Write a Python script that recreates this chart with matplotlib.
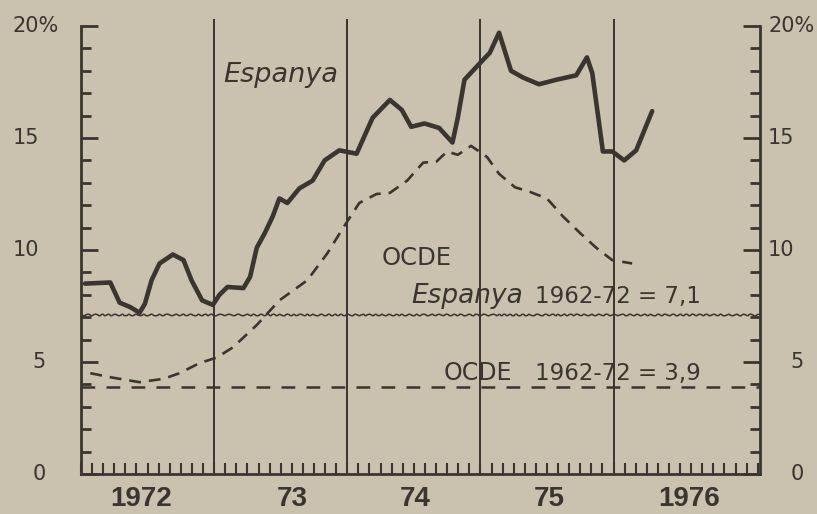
import numpy as np
import matplotlib.pyplot as plt
from matplotlib.ticker import FixedLocator

# colors del paper
paper = '#cac1ae'
ink = '#3a3530'

# Espanya: taxa d'inflacio (%)
esp_x = [1972.03, 1972.22, 1972.29, 1972.37, 1972.44, 1972.48, 1972.53, 1972.59,
         1972.69, 1972.77, 1972.83, 1972.91, 1972.99, 1973.04, 1973.10, 1973.22,
         1973.27, 1973.32, 1973.38, 1973.44, 1973.49, 1973.55, 1973.64, 1973.74,
         1973.83, 1973.94, 1974.07, 1974.19, 1974.32, 1974.41, 1974.48, 1974.58,
         1974.69, 1974.79, 1974.83, 1974.88, 1974.99, 1975.07, 1975.14, 1975.23,
         1975.32, 1975.44, 1975.57, 1975.72, 1975.80, 1975.84, 1975.92, 1975.99,
         1976.08, 1976.17, 1976.29]
esp_y = [8.5, 8.55, 7.65, 7.45, 7.2, 7.6, 8.65, 9.4,
         9.8, 9.55, 8.65, 7.75, 7.55, 8.0, 8.35, 8.3,
         8.8, 10.1, 10.75, 11.5, 12.3, 12.1, 12.75, 13.1,
         14.0, 14.45, 14.3, 15.9, 16.7, 16.25, 15.5, 15.65,
         15.45, 14.8, 15.9, 17.6, 18.3, 18.8, 19.7, 18.0,
         17.7, 17.4, 17.6, 17.8, 18.6, 17.9, 14.4, 14.4,
         14.0, 14.45, 16.2]

# OCDE
ocde_x = [1972.07, 1972.24, 1972.44, 1972.62, 1972.74, 1972.89, 1973.02, 1973.14,
          1973.32, 1973.49, 1973.70, 1973.85, 1973.97, 1974.09, 1974.22, 1974.32,
          1974.45, 1974.57, 1974.67, 1974.75, 1974.83, 1974.93, 1975.05, 1975.14,
          1975.26, 1975.37, 1975.50, 1975.62, 1975.75, 1975.87, 1975.99, 1976.14]
ocde_y = [4.5, 4.3, 4.1, 4.25, 4.5, 4.95, 5.2, 5.65,
          6.65, 7.75, 8.65, 9.85, 11.0, 12.1, 12.5, 12.55,
          13.1, 13.9, 13.95, 14.4, 14.25, 14.65, 14.15, 13.4,
          12.8, 12.6, 12.3, 11.5, 10.75, 10.1, 9.55, 9.4]

esp_mitjana = 7.1
ocde_mitjana = 3.9

anys = [1973, 1974, 1975, 1976]
any_labels = ['1972', '73', '74', '75', '1976']
any_pos = [1972.45, 1973.59, 1974.51, 1975.52, 1976.57]
y_labels = ['0', '5', '10', '15', '20%']
y_vals = [0, 5, 10, 15, 20]

x0, x1 = 1972.0, 1977.1

fig = plt.figure(figsize=(8.17, 5.14), dpi=100)
fig.set_facecolor(paper)
ax = fig.add_axes([81/817, 40/514, 679/817, 454.7/514])
ax.set_facecolor(paper)

ax.set_xlim(x0, x1)
ax.set_ylim(0, 20.3)

for a in anys:
    ax.axvline(a, color=ink, lw=1.4, zorder=1)

ax.plot(esp_x, esp_y, color=ink, lw=3.3, solid_joinstyle='round',
        solid_capstyle='round', zorder=3)
ax.plot(ocde_x, ocde_y, color=ink, lw=1.9, dashes=(4.5, 3), zorder=3)

l1 = ax.axhline(esp_mitjana, color=ink, lw=1.1, zorder=2)
l1.set_sketch_params(0.8, 8, 2)
ax.axhline(ocde_mitjana, color=ink, lw=1.8, dashes=(5.5, 4.5), zorder=2)

# eixos
ax.spines['top'].set_visible(False)
for s in ['left', 'right', 'bottom']:
    ax.spines[s].set_color(ink)
    ax.spines[s].set_linewidth(2)
ax.spines['left'].set_bounds(0, 20)
ax.spines['right'].set_bounds(0, 20)

# x ticks (mesos)
months = np.arange(x0, x1 + 0.001, 1/12)
ax.xaxis.set_minor_locator(FixedLocator(months))
ax.set_xticks(any_pos)
ax.set_xticklabels(any_labels, family='Liberation Sans',
                   fontsize=20, fontweight='bold', color=ink)
ax.tick_params(axis='x', which='major', length=0, pad=9)
ax.tick_params(axis='x', which='minor', direction='in', length=8, width=1.5,
               color=ink)

# y ticks als dos costats
ax.yaxis.set_major_locator(FixedLocator(y_vals))
ax.yaxis.set_minor_locator(FixedLocator(np.arange(0, 21, 1)))
ax.tick_params(axis='y', which='major', direction='in', length=12, width=2,
               color=ink, left=True, right=True, labelleft=False)
ax.tick_params(axis='y', which='minor', direction='in', length=7, width=2,
               color=ink, left=True, right=True)

tr = ax.get_yaxis_transform()
for v, lab in zip(y_vals, y_labels):
    if len(lab) > 1:
        ax.text((13 - 81)/679, v, lab, transform=tr, ha='left', va='center',
                fontsize=15, color=ink)
        ax.text((768 - 81)/679, v, lab, transform=tr, ha='left', va='center',
                fontsize=15, color=ink)
    else:
        ax.text((39 - 81)/679, v, lab, transform=tr, ha='center', va='center',
                fontsize=15, color=ink)
        ax.text((797 - 81)/679, v, lab, transform=tr, ha='center', va='center',
                fontsize=15, color=ink)

# etiquetes
ax.text(1973.50, 17.8, 'Espanya', style='italic', fontsize=19.5, color=ink,
        ha='center', va='center')
ax.text(1974.52, 9.64, 'OCDE', fontsize=17.5, color=ink, ha='center', va='center')
ax.text(1974.484, 7.63, 'Espanya', style='italic', fontsize=19, color=ink,
        ha='left', va='baseline')
ax.text(1975.407, 7.63, '1962-72 = 7,1', fontsize=16.5, color=ink,
        ha='left', va='baseline')
ax.text(1974.72, 4.2, 'OCDE', fontsize=17, color=ink, ha='left', va='baseline')
ax.text(1975.407, 4.2, '1962-72 = 3,9', fontsize=16.5, color=ink,
        ha='left', va='baseline')

fig.savefig('out.png', dpi=100, facecolor=paper)
